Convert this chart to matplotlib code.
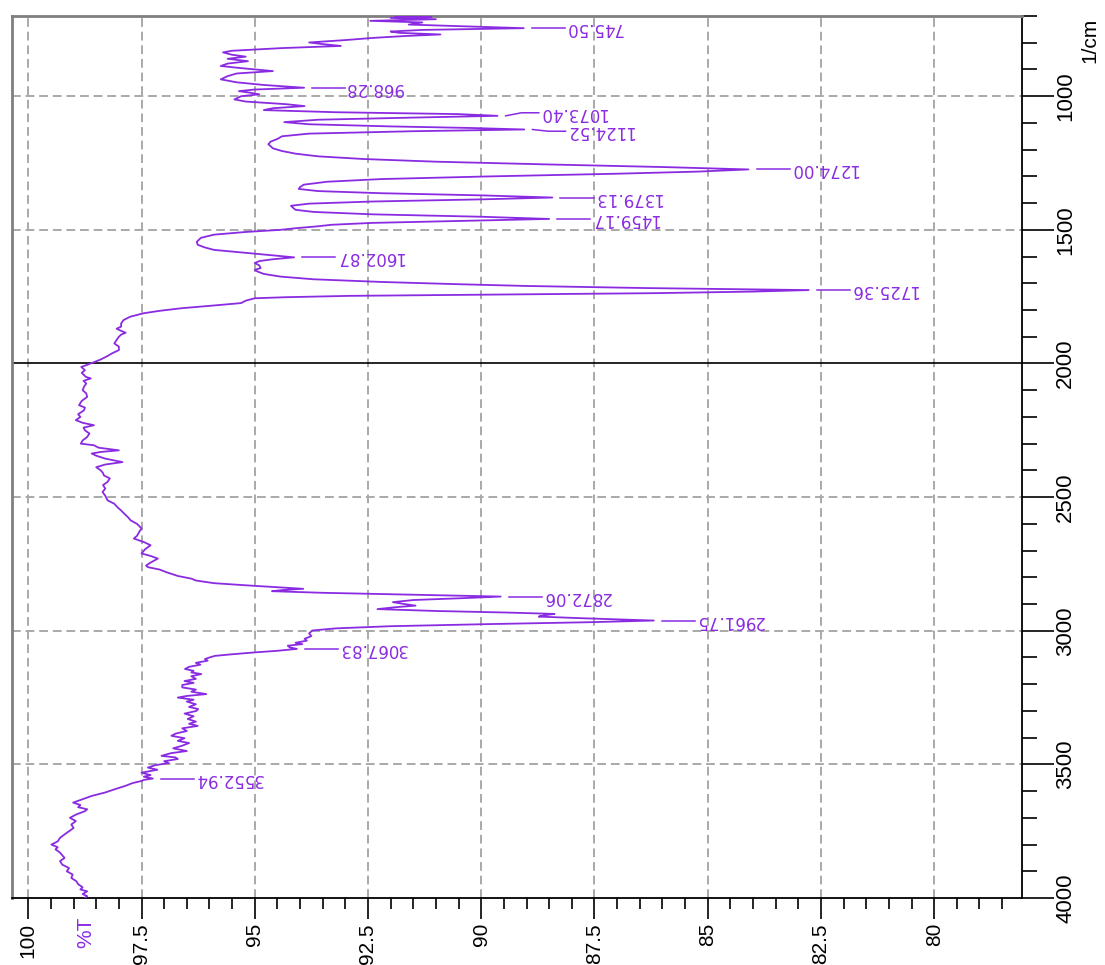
import numpy
import matplotlib
matplotlib.use("Agg")
import matplotlib.pyplot as plt
from matplotlib.ticker import FixedLocator, MultipleLocator

# IR spectrum, drawn turned on its side: %T runs across, wavenumber runs down.
wavenumber = [
    700, 703, 707, 712, 718, 724, 732, 738, 745.5, 752, 758, 763, 769, 775, 782, 790,
    799, 805, 812, 820, 830, 836, 845, 852, 860, 869, 878, 887, 895, 906, 915, 925,
    937, 948, 958, 968.3, 975, 981, 987, 993, 1000, 1012, 1020, 1030, 1037, 1045, 1052,
    1060, 1067, 1073.4, 1080, 1088, 1097, 1105, 1113, 1119, 1124.5, 1131, 1140, 1150,
    1160, 1170, 1180, 1187, 1195, 1205, 1215, 1225, 1235, 1245, 1255, 1265, 1274, 1282,
    1290, 1300, 1310, 1320, 1331, 1340, 1347, 1355, 1363, 1371, 1379.1, 1386, 1394,
    1402, 1410, 1418, 1425, 1433, 1442, 1451, 1459.2, 1466, 1474, 1481, 1487, 1494,
    1500, 1508, 1518, 1530, 1545, 1556, 1566, 1575, 1585, 1594, 1602.9, 1610, 1617,
    1624, 1633, 1643, 1650, 1656, 1665, 1675, 1685, 1695, 1703, 1710, 1718, 1725.4,
    1731, 1737, 1742, 1747, 1752, 1756, 1765, 1774, 1783, 1793, 1803, 1812, 1825, 1838,
    1850, 1862, 1870, 1878, 1885, 1892, 1900, 1912, 1925, 1937, 1950, 1962, 1972, 1985,
    1995, 2005, 2013, 2025, 2035, 2050, 2056, 2065, 2075, 2087, 2100, 2112, 2125, 2140,
    2156, 2165, 2175, 2190, 2200, 2212, 2222, 2231, 2240, 2250, 2262, 2275, 2288, 2300,
    2306, 2315, 2325, 2331, 2337, 2345, 2356, 2369, 2378, 2388, 2400, 2410, 2419, 2430,
    2443, 2455, 2468, 2481, 2495, 2512, 2525, 2538, 2550, 2562, 2575, 2587, 2600, 2617,
    2630, 2645, 2655, 2668, 2680, 2695, 2711, 2720, 2730, 2745, 2756, 2762, 2771, 2781,
    2795, 2805, 2812, 2822, 2831, 2838, 2843, 2848, 2852, 2858, 2865, 2872.1, 2878,
    2885, 2893, 2900, 2906, 2912, 2919, 2926, 2932, 2937, 2942, 2947, 2953, 2961.8,
    2968, 2975, 2983, 2991, 2999, 3010, 3020, 3030, 3037, 3045, 3050, 3056, 3062,
    3067.8, 3075, 3081, 3088, 3094, 3100, 3106, 3112, 3120, 3127, 3135, 3143, 3150,
    3156, 3162, 3170, 3180, 3188, 3195, 3203, 3212, 3220, 3228, 3237, 3244, 3250, 3258,
    3265, 3275, 3285, 3293, 3300, 3310, 3320, 3330, 3340, 3348, 3356, 3365, 3375, 3385,
    3393, 3402, 3412, 3420, 3430, 3440, 3450, 3458, 3468, 3474, 3480, 3488, 3495, 3503,
    3512, 3520, 3531, 3540, 3546, 3553, 3558, 3562, 3570, 3580, 3593, 3605, 3618, 3630,
    3643, 3652, 3660, 3668, 3675, 3688, 3700, 3712, 3725, 3738, 3750, 3762, 3775, 3788,
    3800, 3810, 3818, 3830, 3840, 3850, 3862, 3875, 3888, 3900, 3912, 3925, 3937, 3948,
    3960, 3968, 3975, 3985, 3993, 4000]
transmittance = [
    91.9, 91.1, 92.0, 91.0, 92.45, 91.3, 91.6, 90.5, 89.06, 91.3, 92.0, 91.8, 90.9, 91.7, 92.4, 93.0,
    93.8, 93.5, 93.1, 94.4, 95.5, 95.7, 95.5, 95.2, 95.6, 95.15, 95.6, 95.75, 95.3, 94.6, 95.4, 95.6,
    95.75, 95.4, 94.8, 93.91, 95.0, 95.35, 95.1, 94.9, 95.3, 95.45, 95.2, 94.3, 93.9, 94.6, 94.8,
    93.2, 90.5, 89.64, 91.5, 93.6, 94.35, 93.8, 92.0, 90.2, 89.05, 91.5, 93.8, 94.4,
    94.5, 94.65, 94.7, 94.65, 94.6, 94.4, 94.1, 93.6, 92.6, 91.0, 88.6, 86.0, 84.1, 85.2,
    87.0, 89.8, 92.2, 93.4, 93.92, 94.0, 94.03, 93.6, 92.2, 90.0, 88.43, 90.0, 92.4,
    93.8, 94.2, 94.15, 94.1, 93.7, 92.4, 90.0, 88.5, 90.3, 92.4, 93.3, 93.62, 94.1,
    94.43, 95.2, 95.9, 96.19, 96.28, 96.26, 96.1, 95.9, 95.27, 94.7, 94.13, 94.6, 94.9,
    95.0, 94.9, 94.87, 95.0, 94.94, 94.8, 94.43, 93.7, 92.2, 90.6, 89.0, 86.3, 82.77,
    84.0, 86.2, 89.5, 92.9, 94.3, 95.0, 95.2, 95.3, 95.9, 96.6, 97.1, 97.45, 97.75, 97.9,
    97.95, 97.95, 98.05, 97.95, 97.85, 97.95, 98.0, 98.05, 98.1, 98.0, 98.0, 98.15, 98.25, 98.4,
    98.55, 98.7, 98.83, 98.75, 98.82, 98.73, 98.62, 98.78, 98.72, 98.77, 98.8, 98.72, 98.7, 98.82,
    98.88, 98.75, 98.77, 98.9, 98.85, 98.95, 98.8, 98.55, 98.78, 98.75, 98.65, 98.7, 98.8, 98.84,
    98.55, 98.45, 98.0, 98.4, 98.6, 98.5, 98.3, 97.92, 98.3, 98.5, 98.4, 98.35, 98.33, 98.2,
    98.25, 98.35, 98.3, 98.36, 98.3, 98.25, 98.1, 98.03, 97.95, 97.88, 97.8, 97.74, 97.6, 97.5,
    97.55, 97.6, 97.67, 97.45, 97.3, 97.42, 97.5, 97.3, 97.14, 97.3, 97.4, 97.36, 97.1, 96.95,
    96.7, 96.4, 96.3, 95.9, 95.1, 94.4, 93.93, 94.4, 94.62, 93.5, 91.6, 89.57, 90.4,
    91.5, 91.95, 91.7, 91.45, 91.9, 92.29, 91.0, 89.4, 88.38, 88.6, 88.73, 87.8, 86.19,
    87.6, 89.8, 92.0, 93.2, 93.73, 93.8, 93.75, 93.9, 93.85, 94.1, 93.95, 94.27, 94.23,
    94.07, 94.5, 95.0, 95.5, 95.88, 96.0, 96.1, 96.04, 96.3, 96.2, 96.45, 96.54, 96.35,
    96.4, 96.18, 96.4, 96.3, 96.55, 96.35, 96.6, 96.6, 96.3, 96.4, 96.07, 96.5, 96.7, 96.35,
    96.5, 96.3, 96.45, 96.25, 96.29, 96.55, 96.35, 96.48, 96.3, 96.45, 96.26, 96.6, 96.5, 96.75,
    96.84, 96.55, 96.7, 96.45, 96.6, 96.8, 96.5, 96.85, 97.06, 96.75, 96.7, 97.0, 96.9, 97.2,
    97.36, 97.15, 97.5, 97.3, 97.45, 97.25, 97.45, 97.5, 97.7, 97.85, 98.09, 98.3, 98.6, 98.8,
    99.01, 98.85, 98.9, 98.7, 98.75, 98.95, 99.08, 98.95, 99.05, 99.0, 99.1, 99.2, 99.3, 99.35,
    99.49, 99.35, 99.4, 99.3, 99.25, 99.2, 99.3, 99.25, 99.1, 99.15, 99.02, 99.05, 98.94, 98.9,
    98.8, 98.85, 98.7, 98.8, 98.7, 98.75]

# Picked peaks: position, depth and where the label sits (wavenumber)
peak_wn = [745.50, 968.28, 1073.40, 1124.52, 1274.00, 1379.13, 1459.17, 1602.87,
           1725.36, 2872.06, 2961.75, 3067.83, 3552.94]
peak_T = [89.06, 93.91, 89.64, 89.05, 84.10, 88.43, 88.50, 94.13,
          82.77, 89.57, 86.19, 94.07, 97.25]
label_wn = [745.50, 968.28, 1062.0, 1131.0, 1274.00, 1379.13, 1459.17, 1602.87,
            1725.36, 2872.06, 2961.75, 3067.83, 3552.94]

T_major = [100, 97.5, 95, 92.5, 90, 87.5, 85, 82.5, 80]
T_labels = ["100", "97.5", "95", "92.5", "90", "87.5", "85", "82.5", "80"]
wn_major = [1000, 1500, 2000, 2500, 3000, 3500, 4000]
wn_grid = [1000, 1500, 2500, 3000, 3500]

purple = "#8a2be2"
gridgrey = "#a9a9a9"

fig = plt.figure(figsize=(11.05, 9.65), dpi=100)
ax = fig.add_axes([0.0106, 0.0694, 0.9143, 0.914])

# grid first so the spectrum sits on top
for t in T_major:
    ax.axvline(t, color=gridgrey, lw=1.4, linestyle=(0, (4.5, 2.5)), zorder=1)
for w in wn_grid:
    ax.axhline(w, color=gridgrey, lw=1.4, linestyle=(0, (4.5, 2.5)), zorder=1)
ax.axhline(2000, color="black", lw=1.2, zorder=1)

ax.plot(transmittance, wavenumber, color=purple, lw=1.3, zorder=3)

# peak labels: short leader then the number, upside down like the scan
gap = 0.18
lead = 0.73
for w, t, lw_ in zip(peak_wn, peak_T, label_wn):
    x1 = t - gap
    x2 = t - gap - lead
    ax.plot([x1, x1 - 0.35, x2], [w, lw_, lw_], color=purple, lw=1.1, zorder=3)
    ax.text(x2, lw_, "%.2f" % w, rotation=180, ha="left", va="center",
            color=purple, fontsize=12, family="DejaVu Sans", zorder=4)

ax.set_xlim(100.366, 78.06)
ax.set_ylim(4000, 700)

ax.xaxis.set_major_locator(FixedLocator(T_major))
ax.set_xticklabels(T_labels)
ax.xaxis.set_minor_locator(MultipleLocator(0.5))
ax.yaxis.tick_right()
ax.yaxis.set_major_locator(FixedLocator(wn_major))
ax.yaxis.set_minor_locator(MultipleLocator(100))

ax.tick_params(axis="x", which="major", length=15, width=1.2, pad=3,
               labelrotation=90, labelsize=15, colors="black")
ax.tick_params(axis="x", which="minor", length=8, width=1.2)
ax.tick_params(axis="y", which="major", length=23, width=1.2, pad=1,
               labelrotation=90, labelsize=16)
ax.tick_params(axis="y", which="minor", length=11, width=1.2)
for lab in ax.get_xticklabels() + ax.get_yticklabels():
    lab.set_family("Liberation Sans")
for lab in ax.get_yticklabels():
    lab.set_verticalalignment("center")

ax.spines["top"].set_color("#7f7f7f")
ax.spines["top"].set_linewidth(2.0)
ax.spines["left"].set_color("#7f7f7f")
ax.spines["left"].set_linewidth(2.0)
ax.spines["right"].set_linewidth(1.3)
ax.spines["bottom"].set_linewidth(1.3)

fig.text(1090 / 1105, 1 - 40 / 965, "1/cm", rotation=90, ha="center", va="center",
         fontsize=15, family="Liberation Sans")
fig.text(86 / 1105, 1 - 932 / 965, "%T", rotation=90, ha="center", va="center",
         fontsize=15, family="Liberation Sans", color=purple)

plt.savefig("out.png", dpi=100)
